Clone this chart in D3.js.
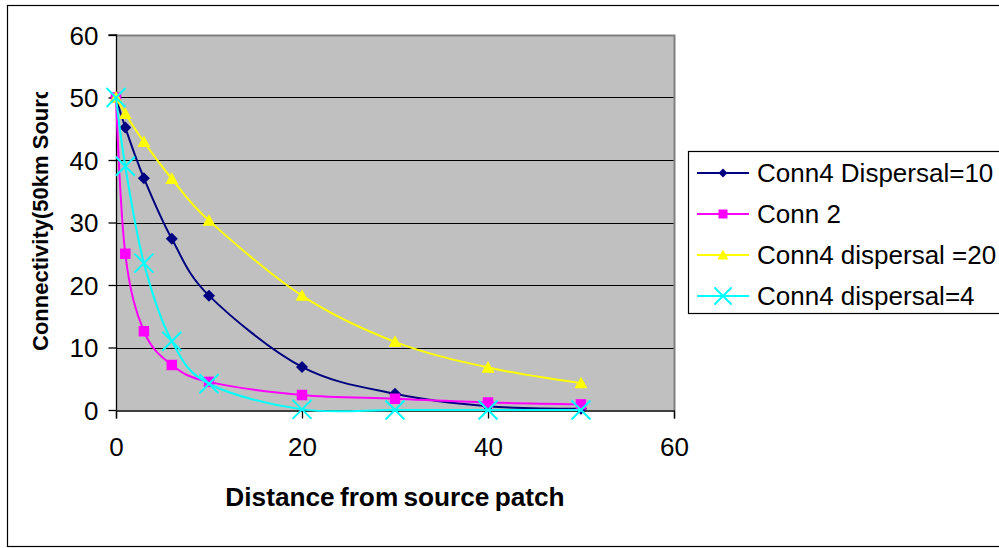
<!DOCTYPE html>
<html>
<head>
<meta charset="utf-8">
<script src="https://cdn.jsdelivr.net/npm/d3@7"></script>
<style>
  html, body { margin: 0; padding: 0; background: #fff; }
  svg { display: block; }
  text { font-family: "Liberation Sans", Arial, sans-serif; fill: #000; }
</style>
</head>
<body>
<svg id="chart" width="999" height="548"></svg>
<script>
// Distance from the source patch (x values shared by all series)
const distances = [0, 1, 3, 6, 10, 20, 30, 40, 50];

// Connectivity values per series
const conn4Disp10 = [50, 45.2, 37.1, 27.4, 18.3, 6.9, 2.6, 0.6, 0.2];
const conn2       = [50, 25.0, 12.6, 7.2, 4.5, 2.4, 1.8, 1.2, 0.9];
const conn4Disp20 = [50, 47.4, 42.9, 37.0, 30.3, 18.3, 10.9, 6.8, 4.3];
const conn4Disp4  = [50, 39.0, 23.5, 11.0, 4.2, 0.1, 0, 0, 0];

const seriesNames = ["Conn4 Dispersal=10", "Conn 2", "Conn4 dispersal =20", "Conn4 dispersal=4"];
const seriesValues = [conn4Disp10, conn2, conn4Disp20, conn4Disp4];

const xTicks = [0, 20, 40, 60];
const yTicks = [0, 10, 20, 30, 40, 50, 60];

const xTitle = "Distance from source patch";
const yTitle = "Connectivity(50km Source)";

// Styling for each series: colour and marker type
const styles = [
  { color: "#000080", marker: "diamond" },
  { color: "#FF00FF", marker: "square" },
  { color: "#FFFF00", marker: "triangle" },
  { color: "#00FFFF", marker: "cross" }
];

const svg = d3.select("#chart");

const plot = { left: 116, right: 674, top: 35, bottom: 410 };
const x = d3.scaleLinear().domain([0, 60]).range([plot.left, plot.right]);
const y = d3.scaleLinear().domain([0, 60]).range([plot.bottom, plot.top]);

// Outer chart frame
svg.append("rect")
  .attr("x", 7.5).attr("y", 5.5)
  .attr("width", 1010).attr("height", 541)
  .attr("fill", "none").attr("stroke", "#000").attr("stroke-width", 1.2);

// Plot background
svg.append("rect")
  .attr("x", plot.left).attr("y", plot.top)
  .attr("width", plot.right - plot.left).attr("height", plot.bottom - plot.top)
  .attr("fill", "#C0C0C0");

// Horizontal gridlines
svg.append("g").selectAll("line")
  .data(yTicks.filter(d => d > 0 && d < 60))
  .join("line")
  .attr("x1", plot.left).attr("x2", plot.right)
  .attr("y1", d => Math.round(y(d)) + 0.5).attr("y2", d => Math.round(y(d)) + 0.5)
  .attr("stroke", "#000").attr("stroke-width", 1);

// Plot-area border on top and right
svg.append("path")
  .attr("d", `M${plot.left},${plot.top + 0.5}H${plot.right + 0.5}V${plot.bottom}`)
  .attr("fill", "none").attr("stroke", "#808080").attr("stroke-width", 2);

// Axes
const yAxis = d3.axisLeft(y).tickValues(yTicks).tickSize(8).tickPadding(10).tickFormat(d3.format("d"));
const xAxis = d3.axisBottom(x).tickValues(xTicks).tickSize(8).tickPadding(19).tickFormat(d3.format("d"));

const gy = svg.append("g").attr("transform", `translate(${plot.left + 0.5},0)`).call(yAxis);
const gx = svg.append("g").attr("transform", `translate(0,${plot.bottom + 0.5})`).call(xAxis);

[gx, gy].forEach(g => {
  g.select(".domain").attr("stroke", "#000").attr("stroke-width", 1.3);
  g.selectAll(".tick line").attr("stroke", "#000").attr("stroke-width", 1.3);
  g.selectAll(".tick text")
    .style("font-family", "'Liberation Sans', Arial, sans-serif")
    .style("font-size", "26px").attr("fill", "#000");
});
gy.select(".domain").attr("d", `M-8,${plot.top}H0V${plot.bottom}`);
gy.selectAll(".tick text").attr("dy", "0.36em");

// Axis titles
svg.append("text")
  .attr("x", (plot.left + plot.right) / 2).attr("y", 506)
  .attr("text-anchor", "middle")
  .style("font-size", "25px").style("font-weight", "bold")
  .style("word-spacing", "-2px")
  .attr("transform", "translate(395,0) scale(1.05,1) translate(-395,0)")
  .text(xTitle);

svg.append("defs").append("clipPath").attr("id", "ytitle-clip")
  .append("rect").attr("x", 0).attr("y", 92).attr("width", 80).attr("height", 300);

svg.append("g").attr("clip-path", "url(#ytitle-clip)")
  .append("text")
  .attr("transform", "translate(48,351) rotate(-90)")
  .attr("text-anchor", "start")
  .style("font-size", "22px").style("font-weight", "bold")
  .text(yTitle);

// Marker drawing helper
function drawMarker(g, kind, color, size) {
  if (kind === "diamond") {
    const s = size / 2;
    g.append("path").attr("d", `M0,${-s}L${s},0L0,${s}L${-s},0Z`).attr("fill", color);
  } else if (kind === "square") {
    const s = size / 2;
    g.append("rect").attr("x", -s).attr("y", -s).attr("width", size).attr("height", size).attr("fill", color);
  } else if (kind === "triangle") {
    const s = size / 2;
    g.append("path").attr("d", `M0,${-s}L${s},${s * 0.8}L${-s},${s * 0.8}Z`).attr("fill", color);
  } else if (kind === "cross") {
    const s = size / 2;
    g.append("path").attr("d", `M${-s},${-s}L${s},${s}M${s},${-s}L${-s},${s}`)
      .attr("stroke", color).attr("stroke-width", 2).attr("fill", "none");
  }
}

// Series lines and markers
const line = d3.line().curve(d3.curveCatmullRom.alpha(0))
  .x(d => x(d[0])).y(d => y(d[1]));

const plotG = svg.append("g");
seriesValues.forEach((vals, i) => {
  const pts = distances.map((d, j) => [d, vals[j]]);
  const g = plotG.append("g");
  g.append("path").datum(pts).attr("d", line)
    .attr("fill", "none").attr("stroke", styles[i].color).attr("stroke-width", 2);
  const size = { diamond: 12, square: 10.5, triangle: 13, cross: 19 }[styles[i].marker];
  pts.forEach(p => {
    const m = g.append("g").attr("transform", `translate(${x(p[0])},${y(p[1])})`);
    drawMarker(m, styles[i].marker, styles[i].color, size);
  });
});

// Legend
const legend = svg.append("g");
legend.append("rect")
  .attr("x", 688.5).attr("y", 151.5).attr("width", 330).attr("height", 162)
  .attr("fill", "#fff").attr("stroke", "#000").attr("stroke-width", 1.2);

const legendY = [173, 214, 255, 296];
seriesNames.forEach((name, i) => {
  const ly = legendY[i];
  legend.append("line").attr("x1", 697).attr("x2", 749).attr("y1", ly).attr("y2", ly)
    .attr("stroke", styles[i].color).attr("stroke-width", 2);
  const size = { diamond: 9, square: 9, triangle: 11, cross: 17 }[styles[i].marker];
  const m = legend.append("g").attr("transform", `translate(723,${ly})`);
  drawMarker(m, styles[i].marker, styles[i].color, size);
  legend.append("text")
    .attr("x", 757).attr("y", ly).attr("dy", "0.36em")
    .style("font-size", "26px")
    .text(name);
});
</script>
</body>
</html>
